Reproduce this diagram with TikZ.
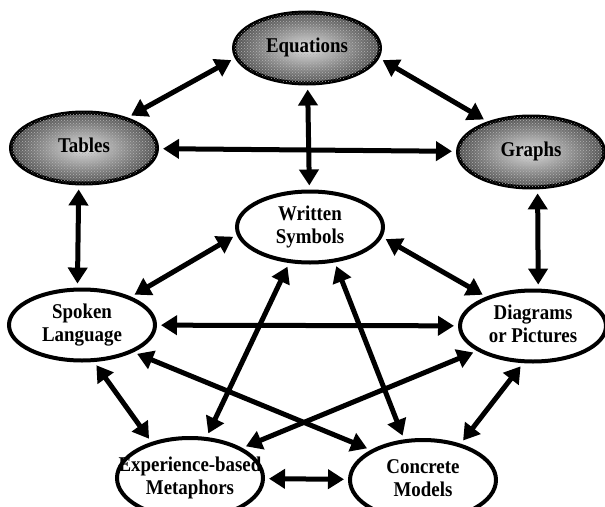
\documentclass[tikz,border=0pt]{standalone}
\usepackage{fontspec}
\setmainfont{Liberation Serif}[FakeStretch=0.9]
\usepackage{tikz}
\usetikzlibrary{shapes, arrows.meta, patterns, positioning, calc}

\newcommand{\olabel}[1]{\makebox[0pt]{\begin{tabular}{@{}c@{}}#1\end{tabular}}}

\begin{document}
\begin{tikzpicture}[x=1pt, y=-1pt,
	every node/.style={font=\bfseries\fontsize{21}{23}\selectfont},
	oval/.style={ellipse, draw, line width=4pt, minimum width=146pt, minimum height=71pt, inner sep=0pt},
	greyoval/.style={oval, inner color=black!12, outer color=black!68,
		postaction={pattern=crosshatch dots, pattern color=black!30}},
	lowoval/.style={oval, minimum height=80pt},
	link/.style={{Triangle[length=16pt,width=19pt]}-{Triangle[length=16pt,width=19pt]}, line width=5pt, shorten <=4pt, shorten >=4pt}]
	\useasboundingbox (0,0) rectangle (605,506);

	\node [greyoval] (eq) at (307,48) {\olabel{Equations}};
	\node [greyoval] (tab) at (84,148) {\olabel{Tables}};
	\node [greyoval] (gra) at (531,152) {\olabel{Graphs}};
	\node [oval] (wri) at (310,227) {\olabel{Written\\Symbols}};
	\node [oval] (spo) at (82,325) {\olabel{Spoken\\Language}};
	\node [oval] (dia) at (533,326) {\olabel{Diagrams\\or Pictures}};
	\node [lowoval] (exp) at (190,478) {\olabel{Experience-based\\Metaphors}};
	\node [lowoval] (con) at (423,480) {\olabel{Concrete\\Models}};

	\foreach \a/\b in {eq.188/tab.35, eq.352/gra.145, eq/wri, tab/gra, tab.262/spo.97, gra.280/dia.82,
		wri.186/spo.30, wri.352/dia.148, wri.240/exp.68, wri.305/con.115, spo/dia,
		spo.288/exp.137, spo.332/con.150, dia.204/exp.30, dia.255/con.44, exp/con}
	\draw [link] (\a) -- (\b);
\end{tikzpicture}
\end{document}
